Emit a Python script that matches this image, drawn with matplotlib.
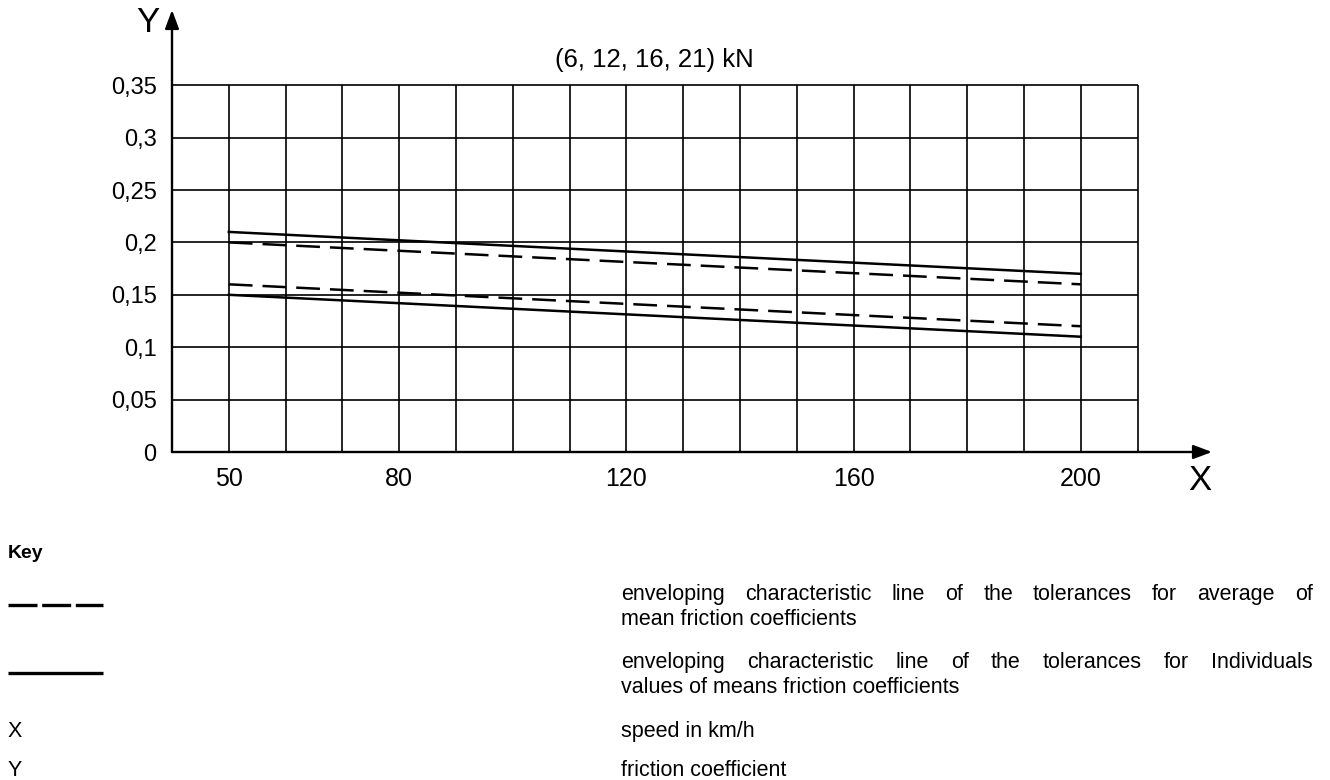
import matplotlib
matplotlib.use("Agg")
import matplotlib.pyplot as plt
from matplotlib.lines import Line2D

plt.rcParams['font.family'] = ['Liberation Sans', 'DejaVu Sans']

# data
speed_ticks = [50, 80, 120, 160, 200]
coef_ticks = [0, 0.05, 0.1, 0.15, 0.2, 0.25, 0.3, 0.35]
coef_labels = ["0", "0,05", "0,1", "0,15", "0,2", "0,25", "0,3", "0,35"]
grid_x = [50, 60, 70, 80, 90, 100, 110, 120, 130, 140, 150, 160, 170, 180, 190, 200, 210]
grid_y = [0.05, 0.1, 0.15, 0.2, 0.25, 0.3, 0.35]

speed = [50, 200]
indiv_upper = [0.21, 0.17]
indiv_lower = [0.15, 0.11]
avg_upper = [0.20, 0.16]
avg_lower = [0.16, 0.12]

title = "(6, 12, 16, 21) kN"
key_rows = [
    ("dashed", ["enveloping characteristic line of the tolerances for average of",
                "mean friction coefficients"]),
    ("solid", ["enveloping characteristic line of the tolerances for Individuals",
               "values of means friction coefficients"]),
    ("X", ["speed in km/h"]),
    ("Y", ["friction coefficient"]),
]

W, H = 1330, 780
fig = plt.figure(figsize=(W / 100, H / 100), dpi=100)

# axes box in pixels: x axis at y=452, left at x=172, arrows run to 1212 / 10
x0, y0, x1, y1 = 172, 452, 1212, 10
ax = fig.add_axes([x0 / W, 1 - y0 / H, (x1 - x0) / W, (y0 - y1) / H])
px_x = 56.8 / 10      # pixels per km/h
px_y = 52.4 / 0.05    # pixels per unit coefficient
ax.set_xlim(40, 40 + (x1 - x0) / px_x)
ax.set_ylim(0, (y0 - y1) / px_y)
for s in ax.spines.values():
    s.set_visible(False)

# grid
ax.vlines(grid_x, 0, max(grid_y), color='black', lw=1.2)
ax.hlines(grid_y, 40, max(grid_x), color='black', lw=1.2)

# axes with arrows
arr = dict(arrowstyle='-|>,head_length=0.8,head_width=0.3', lw=1.7, color='black',
           mutation_scale=14, shrinkA=0, shrinkB=0)
ax.annotate('', xy=(ax.get_xlim()[1], 0), xytext=(40, 0), arrowprops=arr)
ax.annotate('', xy=(40, ax.get_ylim()[1]), xytext=(40, 0), arrowprops=arr)

# tolerance lines
dash = (9.5, 4.0)
ax.plot(speed, indiv_upper, color='black', lw=1.8)
ax.plot(speed, indiv_lower, color='black', lw=1.8)
ax.plot(speed, avg_upper, color='black', lw=1.8, dashes=dash)
ax.plot(speed, avg_lower, color='black', lw=1.8, dashes=dash)

ax.set_xticks(speed_ticks, [str(v) for v in speed_ticks])
ax.set_yticks(coef_ticks, coef_labels)
ax.tick_params(axis='both', length=0)
ax.tick_params(axis='x', pad=11, labelsize=18)
ax.tick_params(axis='y', pad=11, labelsize=17)

fig.text(148 / W, 1 - 22 / H, "Y", fontsize=25, ha='center', va='center')
fig.text(1200 / W, 1 - 480 / H, "X", fontsize=25, ha='center', va='center')
fig.text(654 / W, 1 - 60 / H, title, fontsize=18.5, ha='center', va='center')

# key (text placed on its baseline, ~6 px below the visual centre)
fig.text(8 / W, 1 - 553 / H, "Key", fontsize=14, fontweight='bold', va='center')
renderer = fig.canvas.get_renderer()
txt_left, txt_right = 621, 1313
fs = 15.5
bl = 6


def put(x, y, s):
    return fig.text(x / W, 1 - (y + bl) / H, s, fontsize=fs, va='baseline')


def justified(line, y):
    words = line.split(" ")
    objs = [put(0, y, w) for w in words]
    widths = [o.get_window_extent(renderer).width for o in objs]
    gap = (txt_right - txt_left - sum(widths)) / (len(words) - 1)
    xp = txt_left
    for o, w in zip(objs, widths):
        o.set_x(xp / W)
        xp += w + gap


row_y = [605, 673, 731, 770]
for (kind, lines), yy in zip(key_rows, row_y):
    if kind in ("dashed", "solid"):
        ln = Line2D([8 / W, 103 / W], [1 - yy / H, 1 - yy / H], color='black', lw=2.4,
                    transform=fig.transFigure, solid_capstyle='butt', dash_capstyle='butt')
        if kind == "dashed":
            ln.set_dashes((8.7, 1.4))
        fig.add_artist(ln)
        justified(lines[0], yy - 11)
        put(txt_left, yy + 14, lines[1])
    else:
        put(8, yy, kind)
        put(txt_left, yy, lines[0])

fig.savefig("out.png", dpi=100)
